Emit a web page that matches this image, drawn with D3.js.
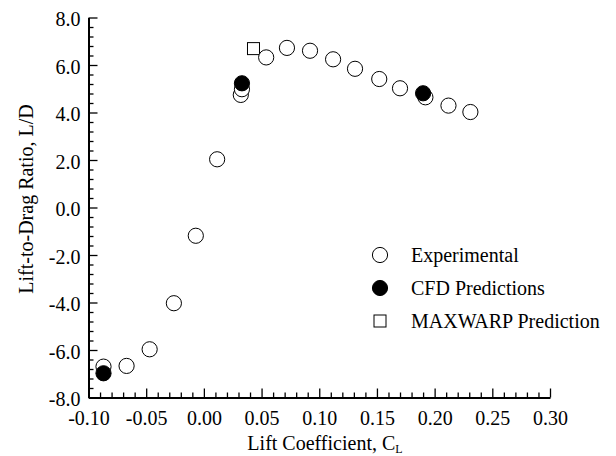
<!DOCTYPE html>
<html>
<head>
<meta charset="utf-8">
<script src="https://cdn.jsdelivr.net/npm/d3@7"></script>
<style>
	body { margin: 0; background: #fff; }
	svg text { font-family: "Liberation Serif", "Times New Roman", Times, "DejaVu Serif", serif !important; fill: #000; }
</style>
</head>
<body>
<div id="chart"></div>
<script>
// experimental data (lift coefficient vs L/D)
var expCL = [-0.087, -0.067, -0.047, -0.026, -0.007, 0.0115, 0.032, 0.033, 0.054, 0.072, 0.092, 0.112, 0.131, 0.152, 0.170, 0.192, 0.212, 0.231];
var expLD = [-6.70, -6.67, -5.97, -4.03, -1.19, 2.03, 4.74, 4.98, 6.32, 6.72, 6.60, 6.24, 5.84, 5.41, 5.02, 4.64, 4.29, 4.02];
// CFD predictions
var cfdCL = [-0.087, 0.033, 0.190];
var cfdLD = [-6.98, 5.23, 4.81];
// MAXWARP prediction
var mwCL = [0.043];
var mwLD = [6.69];

var xTicks = [-0.10, -0.05, 0.00, 0.05, 0.10, 0.15, 0.20, 0.25, 0.30];
var yTicks = [-8, -6, -4, -2, 0, 2, 4, 6, 8];
var legendLabels = ["Experimental", "CFD Predictions", "MAXWARP Prediction"];

var W = 616, H = 456;
var margin = {top: 17.5, right: 66, bottom: 58.5, left: 88.5};
var serif = "'Liberation Serif', 'Times New Roman', Times, 'DejaVu Serif', serif";

var svg = d3.select("#chart").append("svg")
	.attr("width", W)
	.attr("height", H)
	.attr("font-family", serif);

var x = d3.scaleLinear().domain([-0.10, 0.30]).range([margin.left, W - margin.right]);
var y = d3.scaleLinear().domain([-8, 8]).range([H - margin.bottom, margin.top]);

//minor ticks
var xMinor = d3.range(-0.10, 0.3001, 0.01).filter(function(v){ return Math.abs(Math.round(v*100) % 5) !== 0; });
var yMinor = d3.range(-8, 8.001, 0.4).filter(function(v){ return Math.abs(Math.round(v*10) % 20) !== 0; });

function dash(s){ return s.replace("\u2212", "-"); }

var gx = svg.append("g")
	.attr("transform", "translate(0," + y(-8) + ")")
	.call(d3.axisBottom(x).tickValues(xTicks).tickSizeInner(-9).tickSizeOuter(0).tickPadding(13)
		.tickFormat(function(d){ return dash(d3.format(".2f")(d)); }));
gx.append("g").call(d3.axisBottom(x).tickValues(xMinor).tickSize(-5).tickFormat(""))
	.select(".domain").remove();

var gy = svg.append("g")
	.attr("transform", "translate(" + x(-0.10) + ",0)")
	.call(d3.axisLeft(y).tickValues(yTicks).tickSizeInner(-9).tickSizeOuter(0).tickPadding(8)
		.tickFormat(function(d){ return dash(d3.format(".1f")(d)); }));
gy.append("g").call(d3.axisLeft(y).tickValues(yMinor).tickSize(-5).tickFormat(""))
	.select(".domain").remove();

gx.attr("font-family", serif).attr("font-size", 20);
gy.attr("font-family", serif).attr("font-size", 20);
svg.selectAll(".domain").attr("stroke", "#000").attr("stroke-width", 2);
svg.selectAll(".tick line").attr("stroke", "#000").attr("stroke-width", 1.3);
svg.selectAll(".tick text").attr("fill", "#000");
gx.selectAll(".tick text").attr("dy", "0.71em");
gy.selectAll(".tick text").attr("dy", "0.42em");

//axis titles
var xt = svg.append("text")
	.attr("x", 325)
	.attr("y", 450)
	.attr("text-anchor", "middle")
	.attr("font-size", 20);
xt.append("tspan").text("Lift Coefficient, C");
xt.append("tspan").attr("font-size", 12).attr("dy", 3).text("L");

svg.append("text")
	.attr("transform", "translate(33,199) rotate(-90)")
	.attr("text-anchor", "middle")
	.attr("font-size", 20)
	.text("Lift-to-Drag Ratio, L/D");

//points
var pts = svg.append("g");
pts.selectAll("rect.mw").data(mwCL).enter().append("rect")
	.attr("class", "mw")
	.attr("x", function(d,i){ return x(d) - 6; })
	.attr("y", function(d,i){ return y(mwLD[i]) - 6; })
	.attr("width", 12).attr("height", 12)
	.attr("fill", "#fff").attr("stroke", "#000").attr("stroke-width", 1);

pts.selectAll("circle.exp").data(expCL).enter().append("circle")
	.attr("class", "exp")
	.attr("cx", function(d){ return x(d); })
	.attr("cy", function(d,i){ return y(expLD[i]); })
	.attr("r", 7.6)
	.attr("fill", "#fff").attr("stroke", "#000").attr("stroke-width", 1);

pts.selectAll("circle.cfd").data(cfdCL).enter().append("circle")
	.attr("class", "cfd")
	.attr("cx", function(d){ return x(d); })
	.attr("cy", function(d,i){ return y(cfdLD[i]); })
	.attr("r", 7.6)
	.attr("fill", "#000").attr("stroke", "#000").attr("stroke-width", 1);

//legend
var leg = svg.append("g").attr("transform", "translate(380,255)");
legendLabels.forEach(function(lab, i){
	var row = leg.append("g").attr("transform", "translate(0," + (i * 33) + ")");
	if(i === 2){
		row.append("rect").attr("x", -6).attr("y", -6).attr("width", 12).attr("height", 12)
			.attr("fill", "#fff").attr("stroke", "#000").attr("stroke-width", 1);
	}else{
		row.append("circle").attr("r", 7.6)
			.attr("fill", i === 1 ? "#000" : "#fff").attr("stroke", "#000").attr("stroke-width", 1);
	}
	row.append("text").attr("x", 31).attr("y", 7).attr("font-size", 20).text(lab);
});
</script>
</body>
</html>
